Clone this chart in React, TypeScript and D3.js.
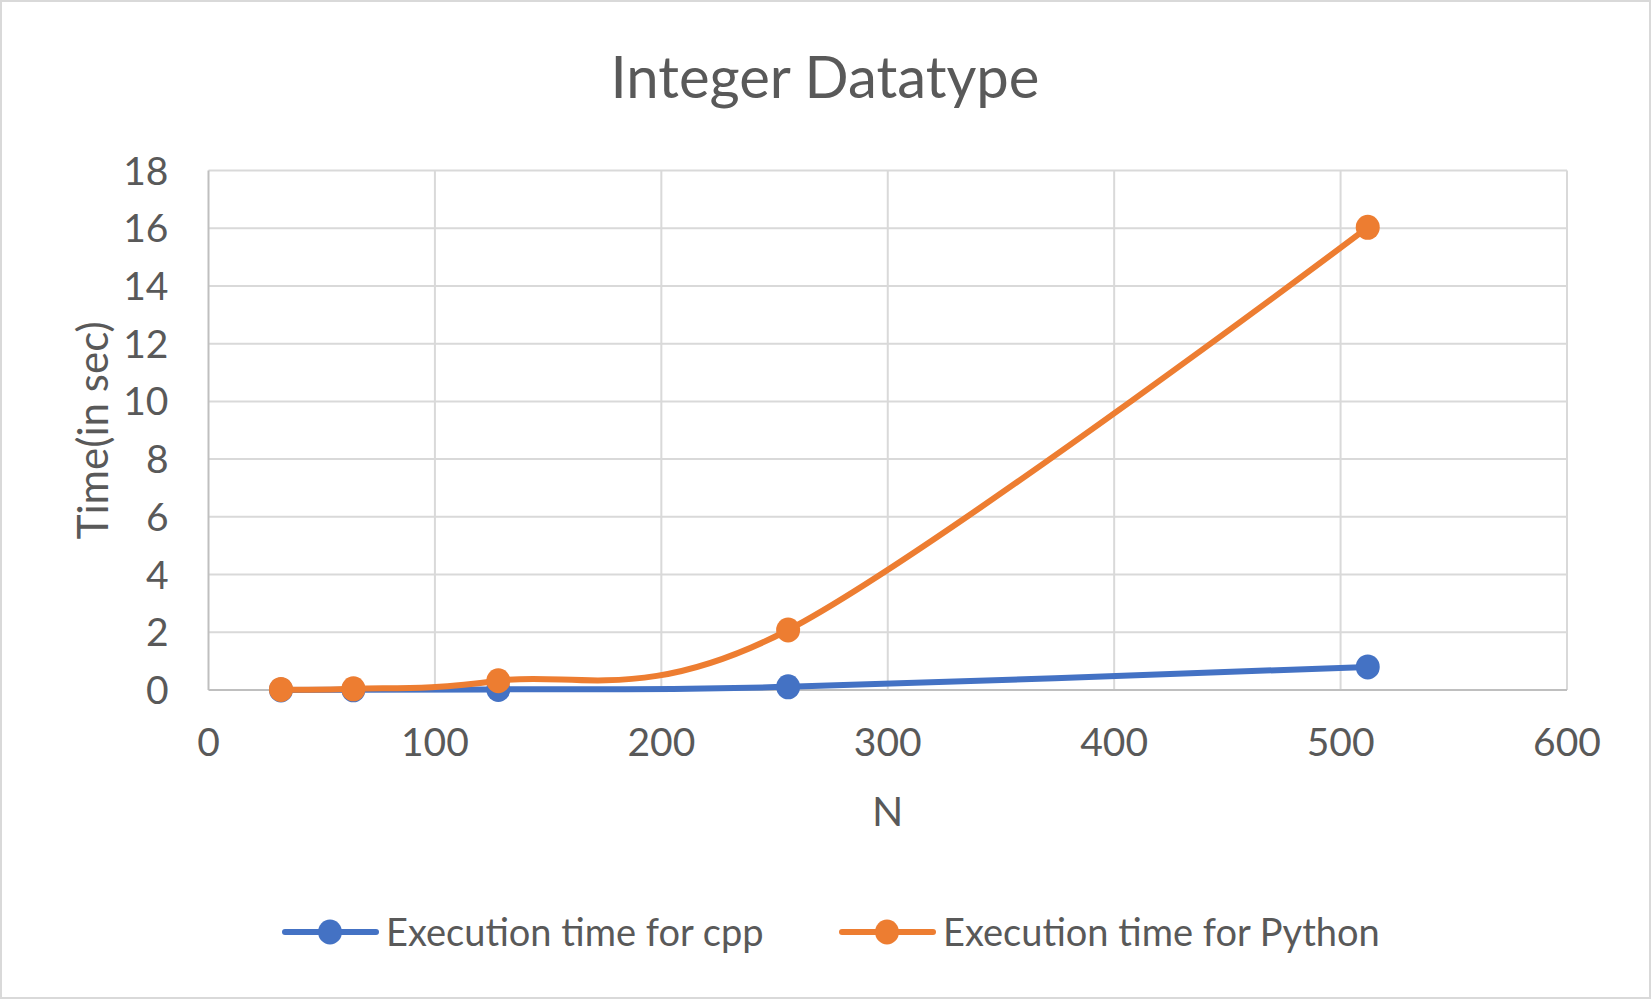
import * as d3 from 'd3'
import { useEffect, useRef } from 'react'

const nValues = [32, 64, 128, 256, 512]
const cppTimes = [0.002, 0.005, 0.02, 0.11, 0.8]
const pythonTimes = [0.02, 0.04, 0.32, 2.08, 16.03]
const xTicks = [0, 100, 200, 300, 400, 500, 600]
const yTicks = [0, 2, 4, 6, 8, 10, 12, 14, 16, 18]
const seriesNames = ['Execution time for cpp', 'Execution time for Python']

const W = 1651
const H = 999
const FONT = 'Lato, "Open Sans", sans-serif'
const TEXT = '#595959'
const BLUE = '#4472C4'
const ORANGE = '#ED7D31'

const App = () => {
  const svgRef = useRef<SVGSVGElement>(null)

  useEffect(() => {
    const svg = d3.select(svgRef.current)
    svg.selectAll('*').remove()

    const margin = { top: 170.5, right: 84, bottom: 309, left: 208.5 }
    const width = W - margin.left - margin.right
    const height = H - margin.top - margin.bottom

    // outer frame
    svg
      .append('rect')
      .attr('x', 1)
      .attr('y', 1)
      .attr('width', W - 2)
      .attr('height', H - 2)
      .attr('fill', '#fff')
      .attr('stroke', '#d9d9d9')
      .attr('stroke-width', 2)

    const x = d3.scaleLinear().domain([0, 600]).range([0, width])
    const y = d3.scaleLinear().domain([0, 18]).range([height, 0])

    const g = svg.append('g').attr('transform', `translate(${margin.left},${margin.top})`)

    // grid lines
    g.selectAll('.hgrid')
      .data(yTicks.filter((d) => d > 0))
      .enter()
      .append('line')
      .attr('x1', 0)
      .attr('x2', width)
      .attr('y1', (d) => y(d))
      .attr('y2', (d) => y(d))
      .attr('stroke', '#d9d9d9')
      .attr('stroke-width', 2)
    g.selectAll('.vgrid')
      .data(xTicks.filter((d) => d > 0))
      .enter()
      .append('line')
      .attr('x1', (d) => x(d))
      .attr('x2', (d) => x(d))
      .attr('y1', 0)
      .attr('y2', height)
      .attr('stroke', '#d9d9d9')
      .attr('stroke-width', 2)

    // axis lines
    g.append('line')
      .attr('x1', 0)
      .attr('x2', width)
      .attr('y1', height)
      .attr('y2', height)
      .attr('stroke', '#bfbfbf')
      .attr('stroke-width', 2)
    g.append('line')
      .attr('x1', 0)
      .attr('x2', 0)
      .attr('y1', 0)
      .attr('y2', height)
      .attr('stroke', '#bfbfbf')
      .attr('stroke-width', 2)

    // tick labels
    g.selectAll('.ylab')
      .data(yTicks)
      .enter()
      .append('text')
      .attr('x', -40)
      .attr('y', (d) => y(d))
      .attr('dy', '0.36em')
      .attr('text-anchor', 'end')
      .attr('font-family', FONT)
      .attr('font-size', 39)
      .attr('fill', TEXT)
      .text((d) => d)
    g.selectAll('.xlab')
      .data(xTicks)
      .enter()
      .append('text')
      .attr('x', (d) => x(d))
      .attr('y', height + 52)
      .attr('dy', '0.36em')
      .attr('text-anchor', 'middle')
      .attr('font-family', FONT)
      .attr('font-size', 39)
      .attr('fill', TEXT)
      .text((d) => d)

    // series
    const series = [
      { name: seriesNames[0], values: cppTimes, color: BLUE },
      { name: seriesNames[1], values: pythonTimes, color: ORANGE },
    ]
    const line = d3
      .line<number>()
      .x((_, i) => x(nValues[i]))
      .y((d) => y(d))
      .curve(d3.curveCatmullRom.alpha(0))

    series.forEach((s) => {
      g.append('path')
        .attr('d', line(s.values))
        .attr('fill', 'none')
        .attr('stroke', s.color)
        .attr('stroke-width', 6)
        .attr('stroke-linecap', 'round')
      g.selectAll(null)
        .data(s.values)
        .enter()
        .append('ellipse')
        .attr('cx', (_, i) => x(nValues[i]))
        .attr('cy', (d) => y(d))
        .attr('rx', 12)
        .attr('ry', 12.5)
        .attr('fill', s.color)
    })

    // title
    svg
      .append('text')
      .attr('x', 825)
      .attr('y', 98)
      .attr('text-anchor', 'middle')
      .attr('font-family', FONT)
      .attr('font-size', 58)
      .attr('fill', TEXT)
      .text('Integer Datatype')

    // axis titles
    svg
      .append('text')
      .attr('x', margin.left + x(300))
      .attr('y', 811)
      .attr('dy', '0.36em')
      .attr('text-anchor', 'middle')
      .attr('font-family', FONT)
      .attr('font-size', 41)
      .attr('fill', TEXT)
      .text('N')
    svg
      .append('text')
      .attr('transform', `translate(93,${margin.top + height / 2}) rotate(-90)`)
      .attr('dy', '0.36em')
      .attr('text-anchor', 'middle')
      .attr('font-family', FONT)
      .attr('font-size', 42)
      .attr('fill', TEXT)
      .text('Time(in sec)')

    // legend
    const legendX = [285, 842]
    series.forEach((s, i) => {
      const lg = svg.append('g').attr('transform', `translate(${legendX[i]},932)`)
      lg.append('line')
        .attr('x1', 0)
        .attr('x2', 91)
        .attr('y1', 0)
        .attr('y2', 0)
        .attr('stroke', s.color)
        .attr('stroke-width', 6)
        .attr('stroke-linecap', 'round')
      lg.append('ellipse')
        .attr('cx', 45)
        .attr('cy', 0)
        .attr('rx', 12)
        .attr('ry', 12.5)
        .attr('fill', s.color)
      lg.append('text')
        .attr('x', 101)
        .attr('y', 0)
        .attr('dy', '0.36em')
        .attr('font-family', FONT)
        .attr('font-size', 38)
        .attr('fill', TEXT)
        .text(s.name)
    })
  }, [])

  return (
    <svg
      ref={svgRef}
      width={W}
      height={H}
      style={{ position: 'absolute', left: 0, top: 0, display: 'block' }}
    ></svg>
  )
}

export default App
